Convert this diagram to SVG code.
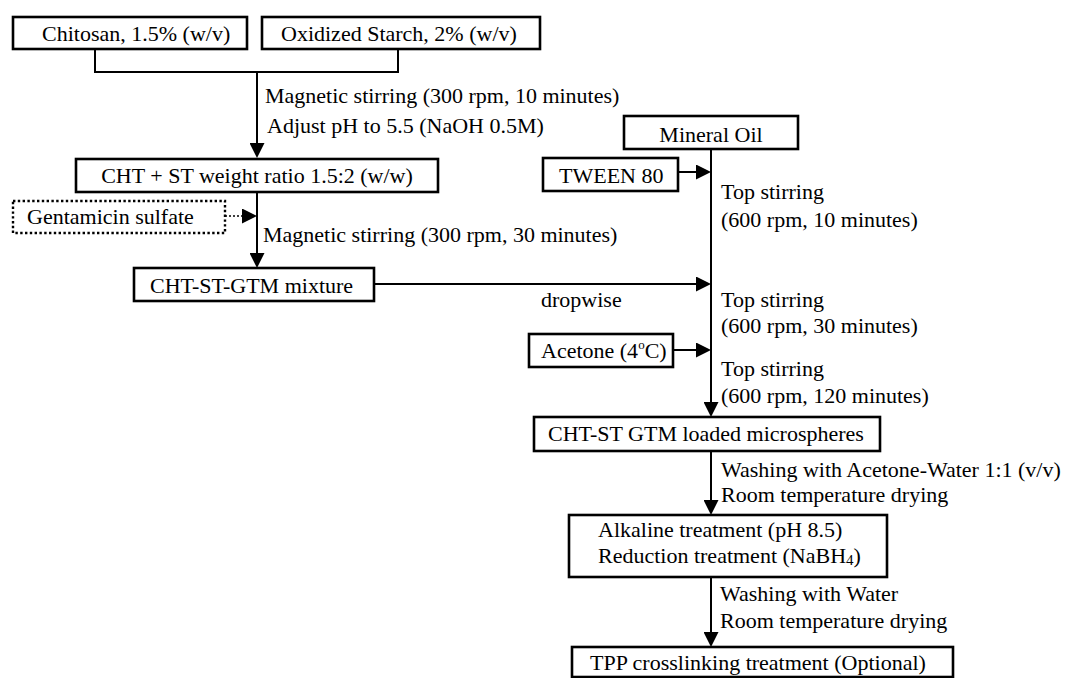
<svg xmlns="http://www.w3.org/2000/svg" width="1074" height="678" viewBox="0 0 1074 678">
<style>
text { font-family: "Liberation Serif", "Times New Roman", serif; font-size: 22px; fill: #000; }
.box { fill: #fff; stroke: #000; stroke-width: 2.6; }
.dbox { fill: #fff; stroke: #000; stroke-width: 2.4; stroke-dasharray: 2.4 2.4; }
.ln { fill: none; stroke: #000; stroke-width: 2; }
.dl { fill: none; stroke: #000; stroke-width: 1.6; stroke-dasharray: 2 2; }
.mid { text-anchor: middle; }
</style>
<defs>
<marker id="ah" markerUnits="userSpaceOnUse" markerWidth="16" markerHeight="15" refX="13" refY="7.5" orient="auto">
<path d="M0,0 L15,7.5 L0,15 Z" fill="#000"/>
</marker>
</defs>
<rect width="1074" height="678" fill="#fff"/>

<g id="connectors">
<polyline class="ln" points="95,49 95,72 398,72 398,49"/>
<line class="ln" x1="257" y1="72" x2="257" y2="156" marker-end="url(#ah)"/>
<line class="ln" x1="257" y1="192" x2="257" y2="266" marker-end="url(#ah)"/>
<line class="dl" x1="225" y1="216" x2="255" y2="216" marker-end="url(#ah)"/>
<line class="ln" x1="374" y1="284" x2="709" y2="284" marker-end="url(#ah)"/>
<line class="ln" x1="711" y1="149" x2="711" y2="415" marker-end="url(#ah)"/>
<line class="ln" x1="678" y1="172" x2="709" y2="172" marker-end="url(#ah)"/>
<line class="ln" x1="673" y1="350" x2="709" y2="350" marker-end="url(#ah)"/>
<line class="ln" x1="711" y1="451" x2="711" y2="513" marker-end="url(#ah)"/>
<line class="ln" x1="711" y1="577" x2="711" y2="645" marker-end="url(#ah)"/>
</g>

<g id="labels">
<text x="265" y="103">Magnetic stirring (300 rpm, 10 minutes)</text>
<text x="267" y="133">Adjust pH to 5.5 (NaOH 0.5M)</text>
<text x="263" y="242">Magnetic stirring (300 rpm, 30 minutes)</text>
<text x="541" y="307">dropwise</text>
<text x="721" y="199">Top stirring</text>
<text x="721" y="227">(600 rpm, 10 minutes)</text>
<text x="721" y="307">Top stirring</text>
<text x="721" y="333">(600 rpm, 30 minutes)</text>
<text x="721" y="376">Top stirring</text>
<text x="721" y="403">(600 rpm, 120 minutes)</text>
<text x="721" y="477">Washing with Acetone-Water 1:1 (v/v)</text>
<text x="721" y="502">Room temperature drying</text>
<text x="720" y="601">Washing with Water</text>
<text x="720" y="628">Room temperature drying</text>
</g>

<g id="chitosan">
<rect class="box" x="13" y="17" width="234" height="32"/>
<text x="42" y="41">Chitosan, 1.5% (w/v)</text>
</g>
<g id="starch">
<rect class="box" x="262" y="17" width="278" height="32"/>
<text x="281" y="41">Oxidized Starch, 2% (w/v)</text>
</g>
<g id="cht-st">
<rect class="box" x="76" y="159" width="362" height="33"/>
<text class="mid" x="257" y="183">CHT + ST weight ratio 1.5:2 (w/w)</text>
</g>
<g id="gentamicin">
<rect class="dbox" x="13" y="201" width="212" height="32"/>
<text x="27" y="224">Gentamicin sulfate</text>
</g>
<g id="mixture">
<rect class="box" x="134" y="268" width="240" height="33"/>
<text x="150" y="293">CHT-ST-GTM mixture</text>
</g>
<g id="mineral-oil">
<rect class="box" x="624" y="116" width="174" height="33"/>
<text class="mid" x="711" y="142">Mineral Oil</text>
</g>
<g id="tween">
<rect class="box" x="543" y="158" width="135" height="33"/>
<text x="559" y="183">TWEEN 80</text>
</g>
<g id="acetone">
<rect class="box" x="529" y="334" width="144" height="33"/>
<text x="541" y="358">Acetone (4<tspan font-size="13" dy="-9">o</tspan><tspan dy="9">C)</tspan></text>
</g>
<g id="microspheres">
<rect class="box" x="534" y="417" width="346" height="34"/>
<text x="548" y="441">CHT-ST GTM loaded microspheres</text>
</g>
<g id="alkaline">
<rect class="box" x="569" y="515" width="318" height="62"/>
<text x="598" y="537">Alkaline treatment (pH 8.5)</text>
<text x="598" y="563">Reduction treatment (NaBH<tspan font-size="15" dy="2">4</tspan><tspan dy="-2">)</tspan></text>
</g>
<g id="tpp">
<rect class="box" x="572" y="647" width="381" height="30"/>
<text x="590" y="670">TPP crosslinking treatment (Optional)</text>
</g>
</svg>
